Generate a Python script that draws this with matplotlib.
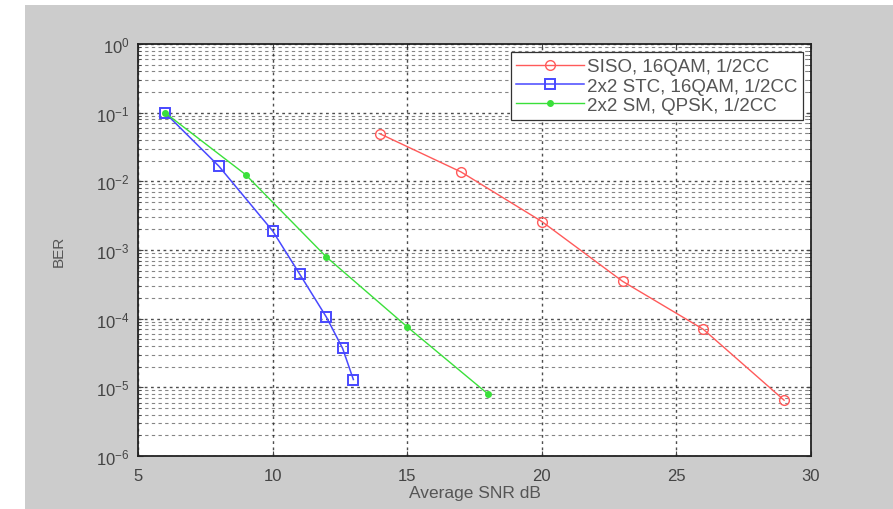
import matplotlib
matplotlib.use("Agg")
import matplotlib.pyplot as plt
from matplotlib.patches import Rectangle
from matplotlib.ticker import LogLocator, NullFormatter

plt.rcParams['font.family'] = ['Liberation Sans', 'DejaVu Sans']

siso_snr = [14, 17, 20, 23, 26, 29]
siso_ber = [0.049, 0.0137, 0.0026, 3.5e-4, 7e-5, 6.5e-6]
stc_snr = [6, 8, 10, 11, 12, 12.6, 13]
stc_ber = [0.1, 0.0167, 0.0019, 4.5e-4, 1.05e-4, 3.7e-5, 1.3e-5]
sm_snr = [6, 9, 12, 15, 18]
sm_ber = [0.1, 0.0125, 7.9e-4, 7.6e-5, 8e-6]

labels = ['SISO, 16QAM, 1/2CC', '2x2 STC, 16QAM, 1/2CC', '2x2 SM, QPSK, 1/2CC']
xticks = [5, 10, 15, 20, 25, 30]

W, H = 893, 510
fig = plt.figure(figsize=(W/100, H/100), dpi=100, facecolor='white')
fig.patches.append(Rectangle((25/W, 0), 1 - 25/W, 1 - 6/H, transform=fig.transFigure,
                             facecolor='#cccccc', edgecolor='none', zorder=-10))
ax = fig.add_axes([138/W, 1 - 457/H, (811-138)/W, (457-45)/H])
ax.set_facecolor('white')

ax.semilogy(siso_snr, siso_ber, color='#ff5a5a', marker='o', mfc='none', ms=7, lw=1.0, label=labels[0])
ax.semilogy(stc_snr, stc_ber, color='#4848ff', marker='s', mfc='none', ms=7, mew=1.4, lw=1.1, label=labels[1])
ax.semilogy(sm_snr, sm_ber, color='#3ae03a', marker='.', ms=8, lw=1.0, label=labels[2])

ax.set_xlim(5, 30)
ax.set_ylim(1e-6, 1)
ax.set_xticks(xticks)
ax.yaxis.set_major_locator(LogLocator(base=10, numticks=10))
ax.yaxis.set_minor_locator(LogLocator(base=10, subs=range(2, 10), numticks=20))
ax.yaxis.set_minor_formatter(NullFormatter())
ax.grid(True, which='major', axis='both', color='#222222', linestyle=(0, (2, 2.5)), lw=1.0, alpha=0.8)
ax.grid(True, which='minor', axis='y', color='#222222', linestyle=(0, (3, 3)), lw=0.8, alpha=0.55)
ax.tick_params(direction='in', which='both', labelsize=12, colors='#444444', top=True, right=True)
ax.tick_params(axis='x', pad=9)
ax.tick_params(axis='y', pad=6)
ax.tick_params(which='minor', length=2)
for s in ax.spines.values():
    s.set_color('#222222')
    s.set_linewidth(1.3)

ax.set_xlabel('Average SNR dB', fontsize=12.5, color='#555555', labelpad=1)
ax.set_ylabel('BER', fontsize=11, color='#555555', labelpad=22)

leg = ax.legend(loc='upper right', fontsize=13.5, frameon=True, fancybox=False,
                edgecolor='#333333', framealpha=1, borderaxespad=0.45, handlelength=3.6,
                labelspacing=0.12, handletextpad=0.15, borderpad=0.3)
leg.get_frame().set_linewidth(0.9)
for t in leg.get_texts():
    t.set_color('#555555')

fig.savefig('out.png', dpi=100, facecolor=fig.get_facecolor())
